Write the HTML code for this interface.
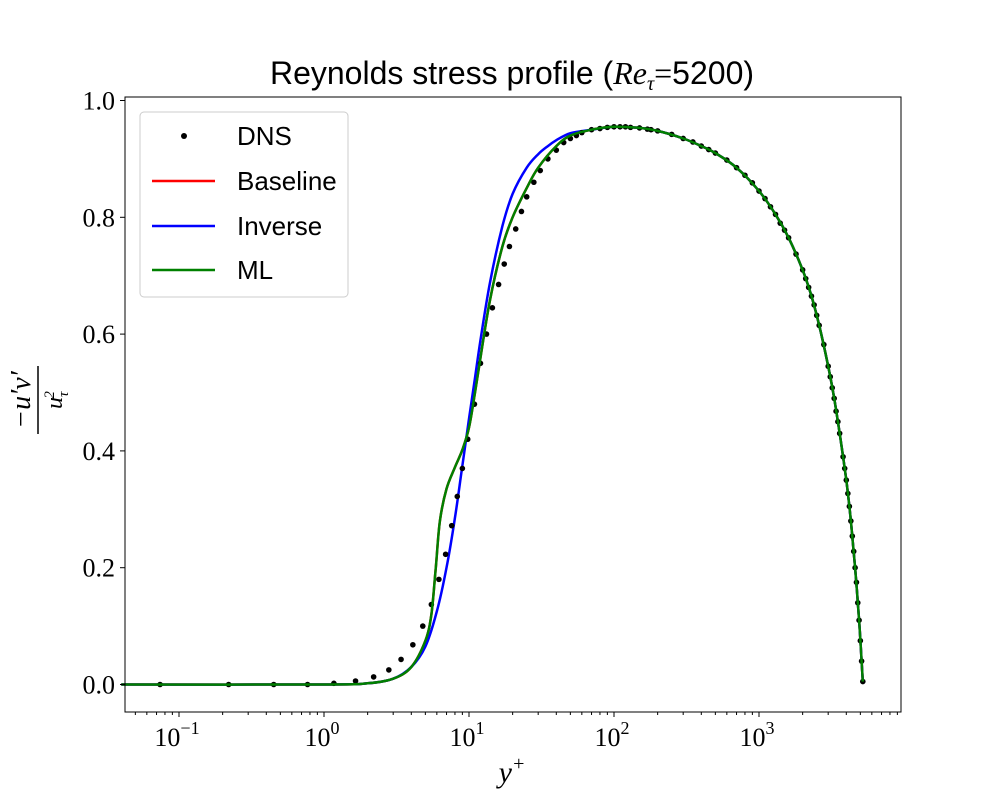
<!DOCTYPE html>
<html><head><meta charset="utf-8"><style>
body{margin:0;background:#fff}
text{font-family:"Liberation Sans",sans-serif}
.serif{font-family:"Liberation Serif",serif}
</style></head><body>
<svg id="chart" width="1000" height="800">
<text x="512" y="84" font-size="32" text-anchor="middle">Reynolds stress profile (<tspan class="serif" font-style="italic">Re</tspan><tspan class="serif" font-style="italic" font-size="20" dy="6">τ</tspan><tspan dy="-6" class="serif">=</tspan>5200)</text>
<g id="plot"></g>
<rect x="125" y="97" width="776" height="615" fill="none" stroke="#000" stroke-width="1"/>
<g id="ticks"></g>
<g transform="translate(38,400) rotate(-90)">
<text class="serif" x="0" y="-8" font-size="28" font-style="italic" text-anchor="middle">−u′v′</text>
<line x1="-34" x2="34" y1="0" y2="0" stroke="#000" stroke-width="1.5"/>
<text class="serif" x="0" y="24" font-size="24" font-style="italic" text-anchor="middle">u<tspan font-size="15" dy="6">τ</tspan><tspan font-size="15" dy="-14" dx="-7">2</tspan></text>
</g>
<text class="serif" x="512" y="782" font-size="30" font-style="italic" text-anchor="middle">y<tspan font-size="20" dy="-12">+</tspan></text>
<g>
<rect x="140" y="112" width="208" height="185" rx="4" fill="#fff" fill-opacity="0.8" stroke="#ccc"/>
<g><circle cx="184" cy="136" r="3" fill="#000"/><text x="237" y="145" font-size="26">DNS</text></g>
<g><line x1="152" x2="215" y1="181" y2="181" stroke="red" stroke-width="2.5"/><text x="237" y="190" font-size="26">Baseline</text></g>
<g><line x1="152" x2="215" y1="226" y2="226" stroke="blue" stroke-width="2.5"/><text x="237" y="235" font-size="26">Inverse</text></g>
<g><line x1="152" x2="215" y1="270" y2="270" stroke="green" stroke-width="2.5"/><text x="237" y="279" font-size="26">ML</text></g>
</g>
</svg>
<script>
const yTickValues=[0,0.2,0.4,0.6,0.8,1.0];
const yTickLabels=["0.0","0.2","0.4","0.6","0.8","1.0"];
const xDecades=[-1,0,1,2,3];
const tailX=[70,100,150,200,300,400,500,700,1000,1300,1600,2000,2300,2600,3000,3300,3600,4000,4300,4600,4900,5100,5200];
const tailY=[0.95,0.955,0.953,0.948,0.935,0.922,0.91,0.885,0.845,0.805,0.765,0.71,0.665,0.615,0.545,0.49,0.43,0.35,0.28,0.2,0.11,0.04,0.005];
const dnsX=[0.074,0.22,0.45,0.77,1.17,1.65,2.2,2.8,3.4,4.1,4.8,5.5,6.2,6.9,7.6,8.3,9.0,9.8,10.9,12,13.2,14.5,16,17.5,19,21,23,25,28,31,35,40,45,50,55,60];
const dnsY=[0,0,0,0,0.002,0.006,0.013,0.025,0.043,0.068,0.1,0.137,0.18,0.223,0.272,0.322,0.37,0.42,0.48,0.55,0.6,0.645,0.685,0.72,0.75,0.78,0.81,0.835,0.86,0.88,0.9,0.915,0.928,0.935,0.94,0.945];
const dnsTailX=[80,90,110,120,130,170,180,250,350,450,600,800,900,1100,1200,1400,1500,1800,2100,2200,2400,2500,2800,3100,3200,3400,3500,3800,3900,4100,4200,4400,4500,4700,4800,5000];
const dnsTailY=[0.952,0.954,0.955,0.955,0.954,0.951,0.95,0.942,0.929,0.916,0.898,0.872,0.859,0.832,0.818,0.79,0.778,0.737,0.695,0.68,0.65,0.632,0.582,0.527,0.508,0.468,0.45,0.39,0.37,0.327,0.305,0.254,0.228,0.175,0.14,0.075];
const invX=[0.04,1,2,3,4,5,6,7,8,9,10,11,12,14,17,20,25,30,35,40,50];
const invY=[0,0,0.002,0.01,0.03,0.065,0.125,0.2,0.285,0.375,0.455,0.525,0.59,0.69,0.785,0.84,0.885,0.908,0.922,0.932,0.944];
const mlX=[0.04,1,2,3,4,5,5.5,5.9,6.3,7,8,9,10,11,12,14,17,20,25,30,40,50];
const mlY=[0,0,0.002,0.01,0.03,0.075,0.12,0.2,0.28,0.335,0.372,0.402,0.44,0.5,0.56,0.66,0.75,0.8,0.85,0.885,0.922,0.94];
const baseX=mlX, baseY=mlY;

const sx=v=>324+145*Math.log10(v);
const sy=v=>684.5-584*v;
const NS="http://www.w3.org/2000/svg";
const plot=document.getElementById('plot'), ticks=document.getElementById('ticks');
function mk(t,a,p){const e=document.createElementNS(NS,t);for(const k in a)e.setAttribute(k,a[k]);p.appendChild(e);return e;}
function smooth(P){
  let d='M'+P[0][0].toFixed(1)+','+P[0][1].toFixed(1);
  for(let i=0;i<P.length-1;i++){
    const p0=P[Math.max(0,i-1)],p1=P[i],p2=P[i+1],p3=P[Math.min(P.length-1,i+2)];
    const c1=[p1[0]+(p2[0]-p0[0])/6,p1[1]+(p2[1]-p0[1])/6];
    const c2=[p2[0]-(p3[0]-p1[0])/6,p2[1]-(p3[1]-p1[1])/6];
    d+='C'+c1.map(v=>v.toFixed(1))+' '+c2.map(v=>v.toFixed(1))+' '+p2.map(v=>v.toFixed(1));
  }
  return d;
}
function line(xs,ys,color,name){
  const X=xs.concat(tailX), Y=ys.concat(tailY);
  const p=mk('path',{d:smooth(X.map((x,i)=>[sx(x),sy(Y[i])])),fill:'none',stroke:color,'stroke-width':2.5},plot);
  
  
}
line(baseX,baseY,'red','baseline-line');
line(invX,invY,'blue','inverse-line');
const dX=dnsX.concat(dnsTailX,tailX), dY=dnsY.concat(dnsTailY,tailY);
dX.forEach((x,i)=>{const c=mk('circle',{cx:sx(x),cy:sy(dY[i]),r:2.8,fill:'#000'},plot);

});
line(mlX,mlY,'green','ml-line');
yTickValues.forEach((v,i)=>{
  mk('line',{x1:120,x2:125,y1:sy(v),y2:sy(v),stroke:'#000'},ticks);
  const t=mk('text',{x:115,y:sy(v)+9,'font-size':26,'text-anchor':'end',class:'serif'},ticks);
  t.textContent=yTickLabels[i];
  
  
});
xDecades.forEach(d=>{
  const x=sx(Math.pow(10,d));
  mk('line',{x1:x,x2:x,y1:712,y2:717,stroke:'#000'},ticks);
  const t=mk('text',{x:x-2,y:746,'font-size':26,'text-anchor':'middle',class:'serif'},ticks);
  t.innerHTML='10<tspan font-size="18" dy="-12">'+(d<0?'−'+(-d):d)+'</tspan>';
  
  
  for(let m=2;m<10;m++){const xm=sx(m*Math.pow(10,d));if(xm<900)mk('line',{x1:xm,x2:xm,y1:712,y2:715,stroke:'#000'},ticks);}
});
[0.05,0.06,0.07,0.08,0.09].forEach(v=>mk('line',{x1:sx(v),x2:sx(v),y1:712,y2:715,stroke:'#000'},ticks));
</script>
</body></html>
